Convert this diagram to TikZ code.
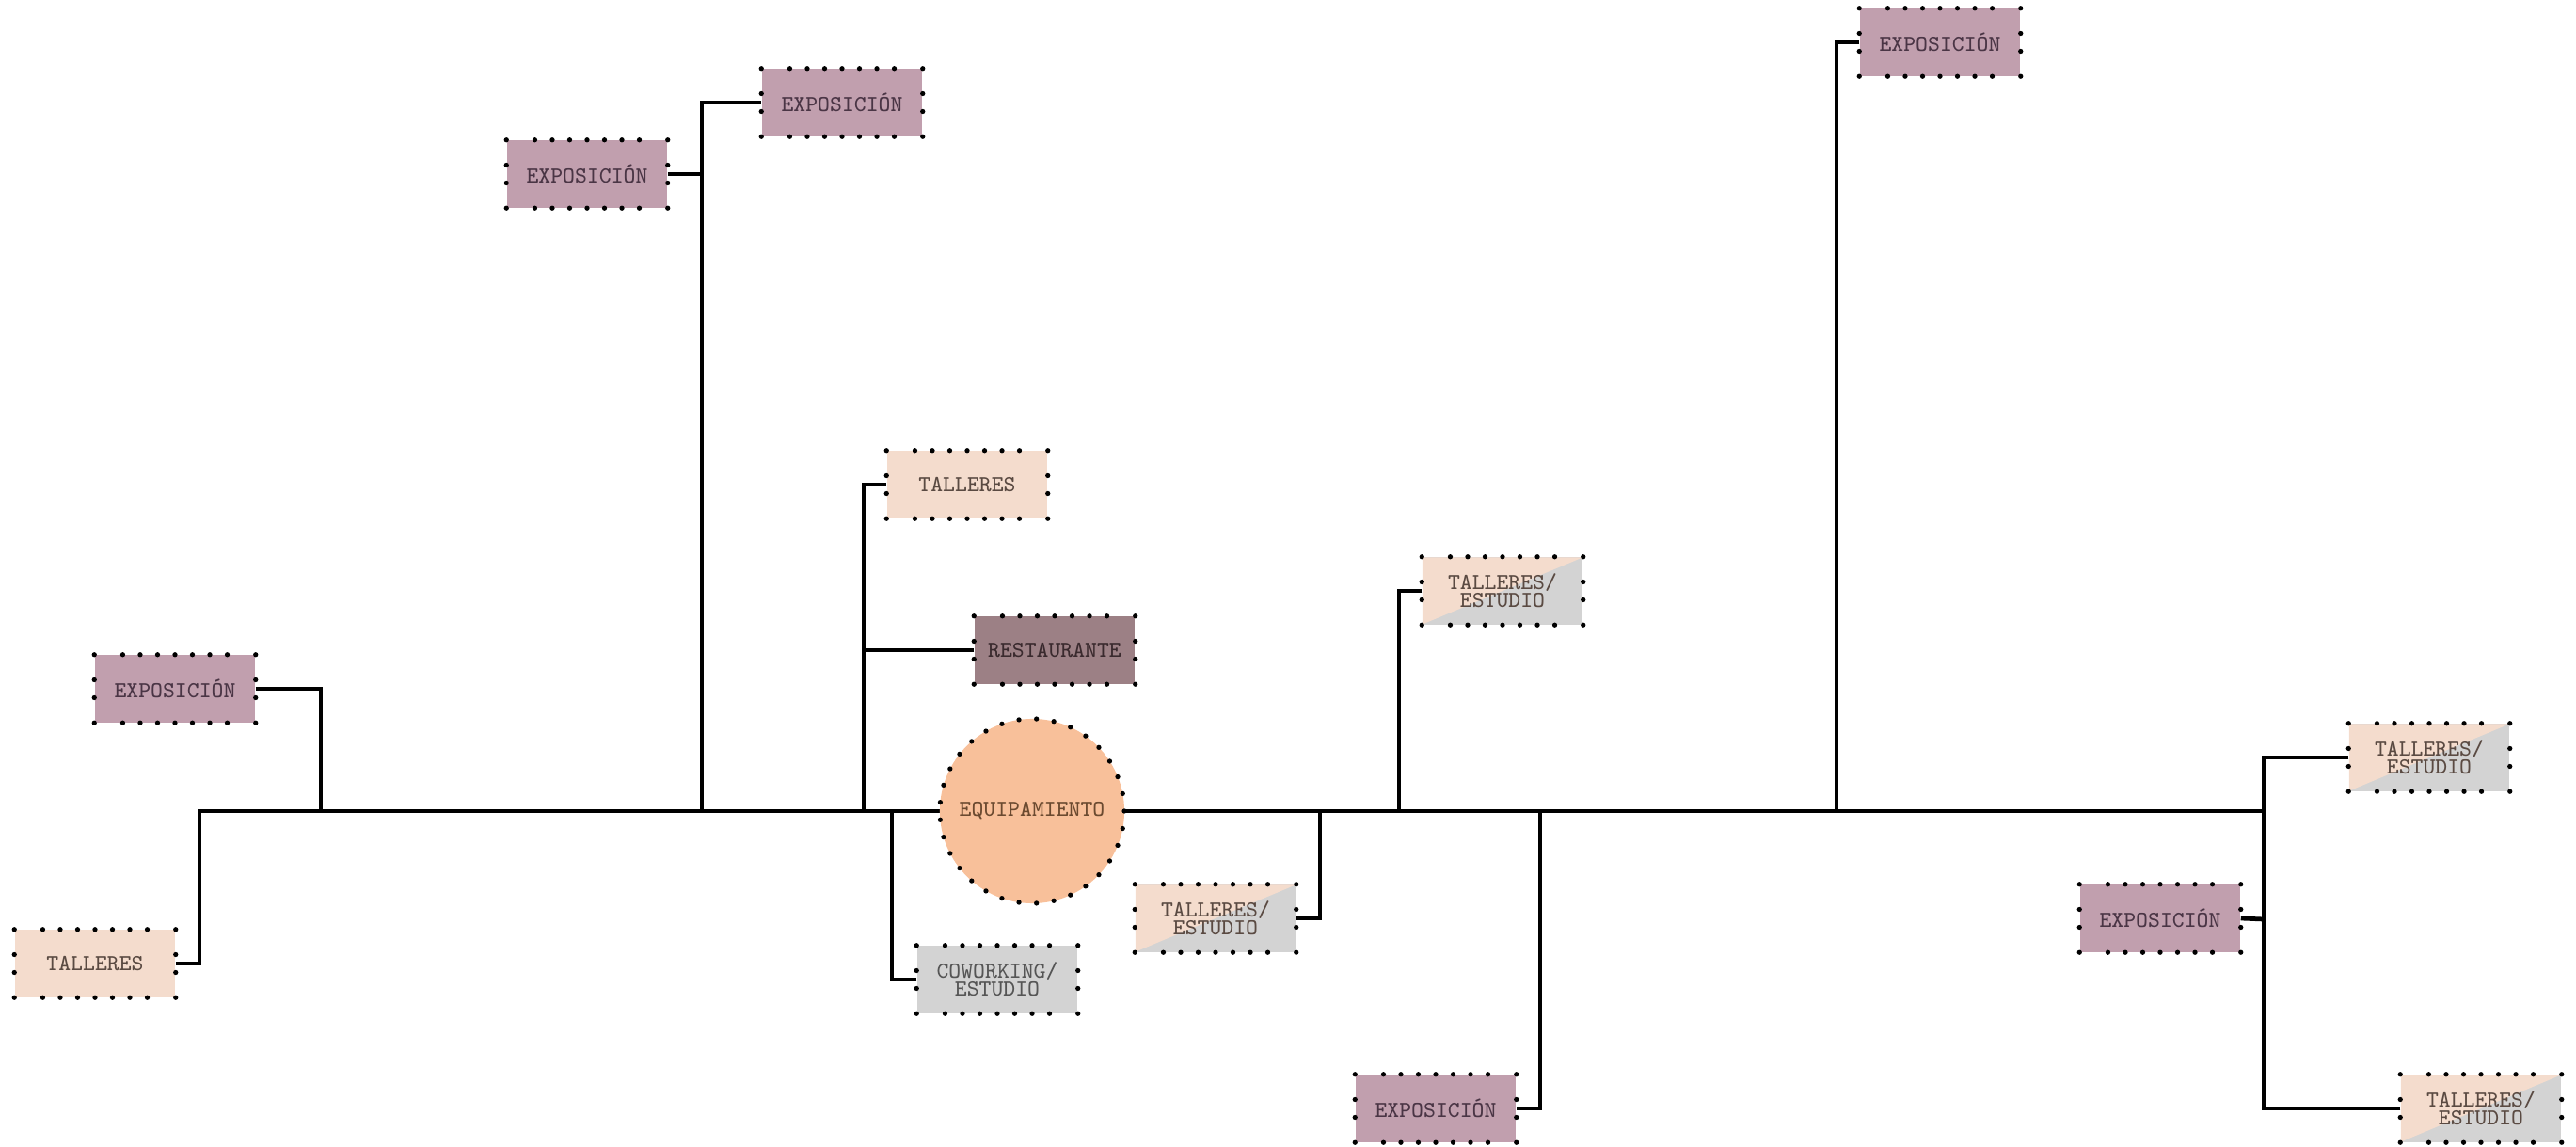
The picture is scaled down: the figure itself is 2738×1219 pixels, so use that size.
\documentclass[tikz,border=0pt]{standalone}
\usepackage{fontspec}
\newfontfamily\boxfont{Latin Modern Mono}
\usetikzlibrary{calc,backgrounds}
\definecolor{expfill}{HTML}{C19FAE}
\definecolor{talfill}{HTML}{F4DCCD}
\definecolor{restfill}{HTML}{9C8085}
\definecolor{grayfill}{HTML}{D3D3D3}
\definecolor{eqfill}{HTML}{F8C09A}
\definecolor{exptext}{HTML}{4A3545}
\definecolor{taltext}{HTML}{5A4A42}
\definecolor{resttext}{HTML}{3A2A2E}
\definecolor{graytext}{HTML}{555555}
\definecolor{eqtext}{HTML}{6B4A30}
\tikzset{
  roombox/.style={rectangle, minimum width=1.7cm, minimum height=0.71cm, inner sep=0pt,
    align=center, font=\boxfont\fontsize{6.9}{5.4}\selectfont},
  expbox/.style={roombox, fill=expfill, text=exptext},
  talbox/.style={roombox, fill=talfill, text=taltext},
  restbox/.style={roombox, fill=restfill, text=resttext},
  cowbox/.style={roombox, fill=grayfill, text=graytext},
  splitbox/.style={roombox, fill=grayfill, text=taltext,
    path picture={\fill[talfill] (path picture bounding box.north west) -- (path picture bounding box.north east) -- (path picture bounding box.south west) -- cycle;}},
  eqnode/.style={circle, minimum size=1.96cm, inner sep=0pt, fill=eqfill, text=eqtext,
    font=\boxfont\fontsize{6.9}{5.4}\selectfont},
  link/.style={line width=1.35pt, black},
  dotmark/.style={fill=black},
}
\newcommand\boxdots[1]{%
  \foreach \pp in {north west,north east,south west,south east}{\fill[dotmark] (#1.\pp) circle[radius=0.75pt];}
  \foreach \i in {-3,...,3}{%
    \fill[dotmark] ($(#1.north)+(\i*0.185cm,0)$) circle[radius=0.75pt];
    \fill[dotmark] ($(#1.south)+(\i*0.185cm,0)$) circle[radius=0.75pt];}
  \foreach \j in {-1,1}{%
    \fill[dotmark] ($(#1.west)+(0,\j*0.095cm)$) circle[radius=0.75pt];
    \fill[dotmark] ($(#1.east)+(0,\j*0.095cm)$) circle[radius=0.75pt];}
}
\begin{document}
\begin{tikzpicture}[x=0.01cm,y=-0.01cm]
\useasboundingbox (0,0) rectangle (2738,1219);
% nodes
\node[expbox] (expL) at (186,732) {EXPOSICIÓN};
\node[talbox] (talL) at (101,1024) {TALLERES};
\node[expbox] (exp2) at (624,185) {EXPOSICIÓN};
\node[expbox] (exp3) at (895,109) {EXPOSICIÓN};
\node[talbox] (talT) at (1028,515) {TALLERES};
\node[restbox] (rest) at (1121,691) {RESTAURANTE};
\node[eqnode] (eq) at (1097,862) {EQUIPAMIENTO};
\node[cowbox] (cow) at (1060,1041) {COWORKING/\\ESTUDIO};
\node[splitbox] (te1) at (1292,976) {TALLERES/\\ESTUDIO};
\node[splitbox] (te2) at (1597,628) {TALLERES/\\ESTUDIO};
\node[expbox] (expB) at (1526,1178) {EXPOSICIÓN};
\node[expbox] (expTR) at (2062,45) {EXPOSICIÓN};
\node[splitbox] (te3) at (2582,805) {TALLERES/\\ESTUDIO};
\node[expbox] (expR) at (2296,976) {EXPOSICIÓN};
\node[splitbox] (te4) at (2637,1178) {TALLERES/\\ESTUDIO};
% junctions on main line
\coordinate (m0) at (212,862);
\coordinate (j1) at (341,862);
\coordinate (j2) at (746,862);
\coordinate (j3) at (918,862);
\coordinate (j4) at (948,862);
\coordinate (j5) at (1403,862);
\coordinate (j6) at (1487,862);
\coordinate (j7) at (1637,862);
\coordinate (j8) at (1952,862);
\coordinate (mEnd) at (2406,862);
\coordinate (k2) at (746,185);
\coordinate (k3) at (918,691);
\coordinate (k8) at (2406,977);
\begin{scope}[on background layer]
\draw[link] (talL.east) -| (m0) -- (mEnd);
\draw[link] (expL.east) -| (j1);
\draw[link] (exp3.west) -| (j2);
\draw[link] (exp2.east) -- (k2);
\draw[link] (talT.west) -| (j3);
\draw[link] (rest.west) -- (k3);
\draw[link] (cow.west) -| (j4);
\draw[link] (te1.east) -| (j5);
\draw[link] (te2.west) -| (j6);
\draw[link] (expB.east) -| (j7);
\draw[link] (expTR.west) -| (j8);
\draw[link] (te3.west) -| (mEnd);
\draw[link] (te4.west) -| (mEnd);
\draw[link] (expR.east) -- (k8);
\end{scope}
% dotted borders
\foreach \n in {expL,talL,exp2,exp3,talT,rest,cow,te1,te2,expB,expTR,te3,expR,te4}{\boxdots{\n}}
\foreach \a in {0,...,32}{\fill[dotmark] ($(eq.center)+(\a*360/33:0.98cm)$) circle[radius=0.75pt];}
\end{tikzpicture}
\end{document}
